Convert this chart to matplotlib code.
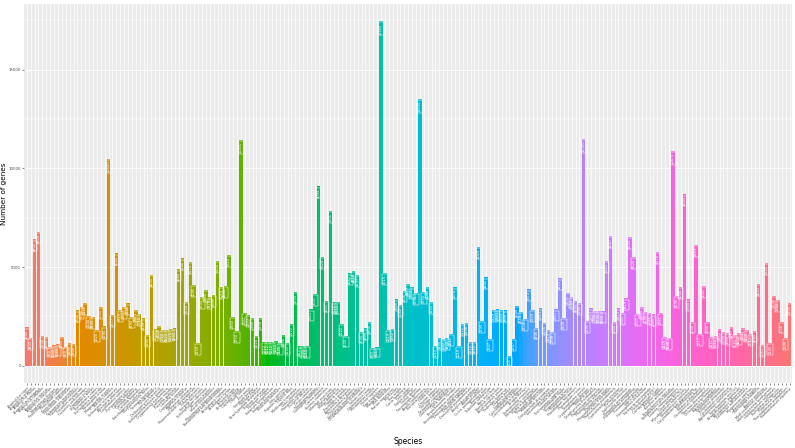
"""Bar chart: number of genes per species (ggplot-style, hue palette, value labels)."""
import numpy as np
import matplotlib
matplotlib.use("Agg")
import matplotlib.pyplot as plt

species = [
    "Aspergillus niger", "Aspergillus oryzae", "Aspergillus flavus", "Aspergillus fumigatus",
    "Aspergillus nidulans", "Aspergillus terreus", "Aspergillus clavatus", "Neosartorya fischeri",
    "Penicillium chrysogenum", "Penicillium rubens", "Penicillium digitatum", "Penicillium expansum",
    "Talaromyces marneffei", "Fusarium graminearum", "Fusarium oxysporum", "Fusarium verticillioides",
    "Fusarium solani", "Trichoderma reesei", "Trichoderma virens", "Trichoderma atroviride",
    "Neurospora crassa", "Magnaporthe oryzae", "Botrytis cinerea", "Sclerotinia sclerotiorum",
    "Alternaria alternata", "Cochliobolus sativus", "Zymoseptoria tritici", "Candida albicans",
    "Candida glabrata", "Candida tropicalis", "Saccharomyces cerevisiae", "Kluyveromyces lactis",
    "Yarrowia lipolytica", "Pichia pastoris", "Debaryomyces hansenii", "Schizosaccharomyces pombe",
    "Cryptococcus neoformans", "Ustilago maydis", "Puccinia graminis", "Laccaria bicolor",
    "Coprinopsis cinerea", "Agaricus bisporus", "Pleurotus ostreatus", "Phanerochaete chrysosporium",
    "Postia placenta", "Serpula lacrymans", "Schizophyllum commune", "Rhizopus oryzae",
    "Mucor circinelloides", "Phycomyces blakesleeanus", "Batrachochytrium dendrobatidis",
    "Arabidopsis thaliana", "Arabidopsis lyrata", "Brassica rapa", "Brassica oleracea",
    "Capsella rubella", "Oryza sativa", "Zea mays", "Sorghum bicolor", "Setaria italica",
    "Brachypodium distachyon", "Triticum aestivum", "Hordeum vulgare", "Solanum lycopersicum",
    "Solanum tuberosum", "Nicotiana tabacum", "Vitis vinifera", "Populus trichocarpa",
    "Glycine max", "Medicago truncatula", "Lotus japonicus", "Phaseolus vulgaris",
    "Cucumis sativus", "Citrus sinensis", "Theobroma cacao", "Gossypium raimondii",
    "Carica papaya", "Ricinus communis", "Manihot esculenta", "Prunus persica",
    "Malus domestica", "Fragaria vesca", "Eucalyptus grandis", "Amborella trichopoda",
    "Physcomitrella patens", "Selaginella moellendorffii", "Chlamydomonas reinhardtii",
    "Volvox carteri", "Ostreococcus tauri", "Micromonas pusilla", "Homo sapiens",
    "Pan troglodytes", "Macaca mulatta", "Mus musculus", "Rattus norvegicus", "Bos taurus",
    "Sus scrofa", "Canis familiaris", "Felis catus", "Equus caballus", "Gallus gallus",
    "Taeniopygia guttata", "Anolis carolinensis", "Xenopus tropicalis", "Danio rerio",
    "Oryzias latipes", "Takifugu rubripes", "Tetraodon nigroviridis", "Gasterosteus aculeatus",
    "Ciona intestinalis", "Branchiostoma floridae", "Strongylocentrotus purpuratus",
    "Drosophila melanogaster", "Drosophila simulans", "Drosophila pseudoobscura",
    "Anopheles gambiae", "Aedes aegypti", "Culex quinquefasciatus", "Bombyx mori",
    "Tribolium castaneum", "Apis mellifera", "Nasonia vitripennis", "Acyrthosiphon pisum",
    "Pediculus humanus", "Daphnia pulex", "Ixodes scapularis", "Caenorhabditis elegans",
    "Caenorhabditis briggsae", "Brugia malayi", "Schistosoma mansoni", "Nematostella vectensis",
    "Hydra magnipapillata", "Trichoplax adhaerens", "Monosiga brevicollis",
    "Dictyostelium discoideum", "Entamoeba histolytica", "Giardia lamblia",
    "Trichomonas vaginalis", "Leishmania major", "Trypanosoma brucei", "Trypanosoma cruzi",
    "Plasmodium falciparum", "Plasmodium vivax", "Toxoplasma gondii", "Cryptosporidium parvum",
    "Theileria parva", "Tetrahymena thermophila", "Paramecium tetraurelia",
    "Phytophthora infestans", "Phytophthora sojae", "Phaeodactylum tricornutum",
    "Thalassiosira pseudonana", "Cyanidioschyzon merolae", "Escherichia coli",
    "Salmonella enterica", "Klebsiella pneumoniae", "Pseudomonas aeruginosa",
    "Pseudomonas putida", "Vibrio cholerae", "Haemophilus influenzae", "Neisseria meningitidis",
    "Helicobacter pylori", "Campylobacter jejuni", "Bacillus subtilis", "Bacillus anthracis",
    "Staphylococcus aureus", "Streptococcus pneumoniae", "Listeria monocytogenes",
    "Clostridium difficile", "Mycobacterium tuberculosis", "Streptomyces coelicolor",
    "Corynebacterium glutamicum", "Synechocystis sp.", "Nostoc punctiforme",
    "Deinococcus radiodurans", "Thermus thermophilus", "Chlamydia trachomatis",
    "Borrelia burgdorferi", "Treponema pallidum", "Rickettsia prowazekii",
    "Caulobacter crescentus", "Agrobacterium tumefaciens", "Sinorhizobium meliloti",
    "Bradyrhizobium japonicum", "Rhodobacter sphaeroides", "Geobacter sulfurreducens",
    "Myxococcus xanthus", "Bacteroides fragilis", "Thermotoga maritima", "Aquifex aeolicus",
    "Methanococcus jannaschii", "Methanosarcina acetivorans", "Halobacterium salinarum",
    "Sulfolobus solfataricus", "Pyrococcus furiosus", "Thermoplasma acidophilum",
    "Nanoarchaeum equitans",
]

n_genes = [
    1940, 1400, 6400, 6800, 1530, 1450, 950, 1030, 1080, 1480,
    950, 1145, 1100, 2800, 3000, 3170, 2540, 2490, 1820, 3000,
    1990, 10500, 2577, 5692, 2829, 2997, 3166, 2492, 2829, 2610,
    2400, 1566, 4600, 1850, 2020, 1820, 1820, 1870, 1900, 4880,
    5440, 3250, 5270, 4090, 1150, 3500, 3840, 3470, 3600, 5320,
    4010, 4040, 5610, 2460, 1750, 11450, 2661, 2577, 2408, 1516,
    2408, 1212, 1212, 1212, 1263, 1145, 1566, 1145, 2122, 3755,
    977, 1000, 1010, 2863, 3637, 9094, 5524, 3301, 7831, 3216,
    3250, 2122, 1532, 4682, 4816, 4597, 1735, 1900, 2206, 893,
    926, 17455, 4715, 1819, 1852, 3368, 3082, 3806, 4143, 3974,
    3700, 13535, 3755, 4008, 3250, 1010, 1398, 1347, 1400, 1617,
    3974, 1010, 2122, 2156, 1212, 1212, 6029, 2290, 4480, 1347,
    2829, 2863, 2829, 2800, 505, 1347, 3048, 2745, 2358, 3873,
    2829, 1936, 2913, 2156, 1819, 1700, 2863, 4429, 2408, 3705,
    3503, 3301, 3200, 11500, 2290, 2913, 2795, 2795, 2750, 5321,
    6567, 2240, 2913, 2661, 3419, 6534, 5524, 2627, 2998, 2745,
    2661, 2600, 5776, 2661, 1448, 1398, 10879, 3536, 4008, 8689,
    3368, 2240, 6113, 1617, 4042, 2240, 1482, 1516, 1852, 1700,
    1650, 1987, 1550, 1650, 1903, 1800, 1617, 1785, 4143, 1061,
    5220, 1145, 3536, 3334, 2240, 1398, 3200,
]

y_ticks = [0, 5000, 10000, 15000]


def hue_pal(n, l=65, c=100, h0=15, h1=375):
    # ggplot2 default discrete palette (polar LUV -> sRGB)
    hs = np.linspace(h0, h1, n + 1)[:n]
    Xn, Yn, Zn = 95.047, 100.0, 108.883
    un = 4 * Xn / (Xn + 15 * Yn + 3 * Zn)
    vn = 9 * Yn / (Xn + 15 * Yn + 3 * Zn)
    M = np.array([[3.2404542, -1.5371385, -0.4985314],
                  [-0.9692660, 1.8760108, 0.0415560],
                  [0.0556434, -0.2040259, 1.0572252]])
    out = []
    for h in hs:
        u = c * np.cos(np.radians(h))
        v = c * np.sin(np.radians(h))
        Y = Yn * ((l + 16) / 116) ** 3
        up = u / (13 * l) + un
        vp = v / (13 * l) + vn
        X = 9 * Y * up / (4 * vp)
        Z = -X / 3 - 5 * Y + 3 * Y / vp
        rgb = M @ (np.array([X, Y, Z]) / 100)
        rgb = np.where(rgb > 0.0031308, 1.055 * np.clip(rgb, 0, None) ** (1 / 2.4) - 0.055, 12.92 * rgb)
        out.append(tuple(np.clip(rgb, 0, 1)))
    return out


cols = hue_pal(len(species))
x = np.arange(len(species))

fig = plt.figure(figsize=(7.95, 4.48), dpi=100)
ax = fig.add_axes([0.0308, 0.1451, 0.9654, 0.846])
ax.set_facecolor("#EBEBEB")
ymax = max(n_genes)
ax.set_ylim(-0.05 * ymax, ymax * 1.05)
ax.set_xlim(-0.6, len(species) - 0.4)

# grid (ggplot theme_grey)
for yv in np.arange(2500, ymax * 1.05, 5000):
    ax.axhline(yv, color="white", lw=0.35, zorder=0)
for yv in y_ticks:
    ax.axhline(yv, color="white", lw=0.7, zorder=0)
for xv in x:
    ax.axvline(xv, color="white", lw=0.5, zorder=0)

ax.bar(x, n_genes, width=0.9, color=cols, zorder=2)
for xi, v in zip(x, n_genes):
    ax.text(xi, v - 100, str(v), rotation=90, ha="center", va="top", fontsize=2.6,
            color="white", zorder=3,
            bbox=dict(boxstyle="square,pad=0.2", fc="none", ec="white", lw=0.35))

for s in ax.spines.values():
    s.set_visible(False)
ax.set_yticks(y_ticks)
ax.set_yticklabels([str(t) for t in y_ticks], fontsize=2.8, color="#4D4D4D")
ax.set_xticks(x)
ax.set_xticklabels(species, rotation=45, ha="right", rotation_mode="anchor",
                   fontsize=2.4, color="#4D4D4D")
ax.tick_params(axis="both", length=1.5, width=0.4, color="#333333", pad=1)

fig.text(408 / 795, 1 - 441 / 448, "Species", fontsize=5.5, ha="center", va="center")
fig.text(4.5 / 795, 1 - 194 / 448, "Number of genes", fontsize=5.2, rotation=90,
         ha="center", va="center")

fig.savefig("out.png", dpi=100)
